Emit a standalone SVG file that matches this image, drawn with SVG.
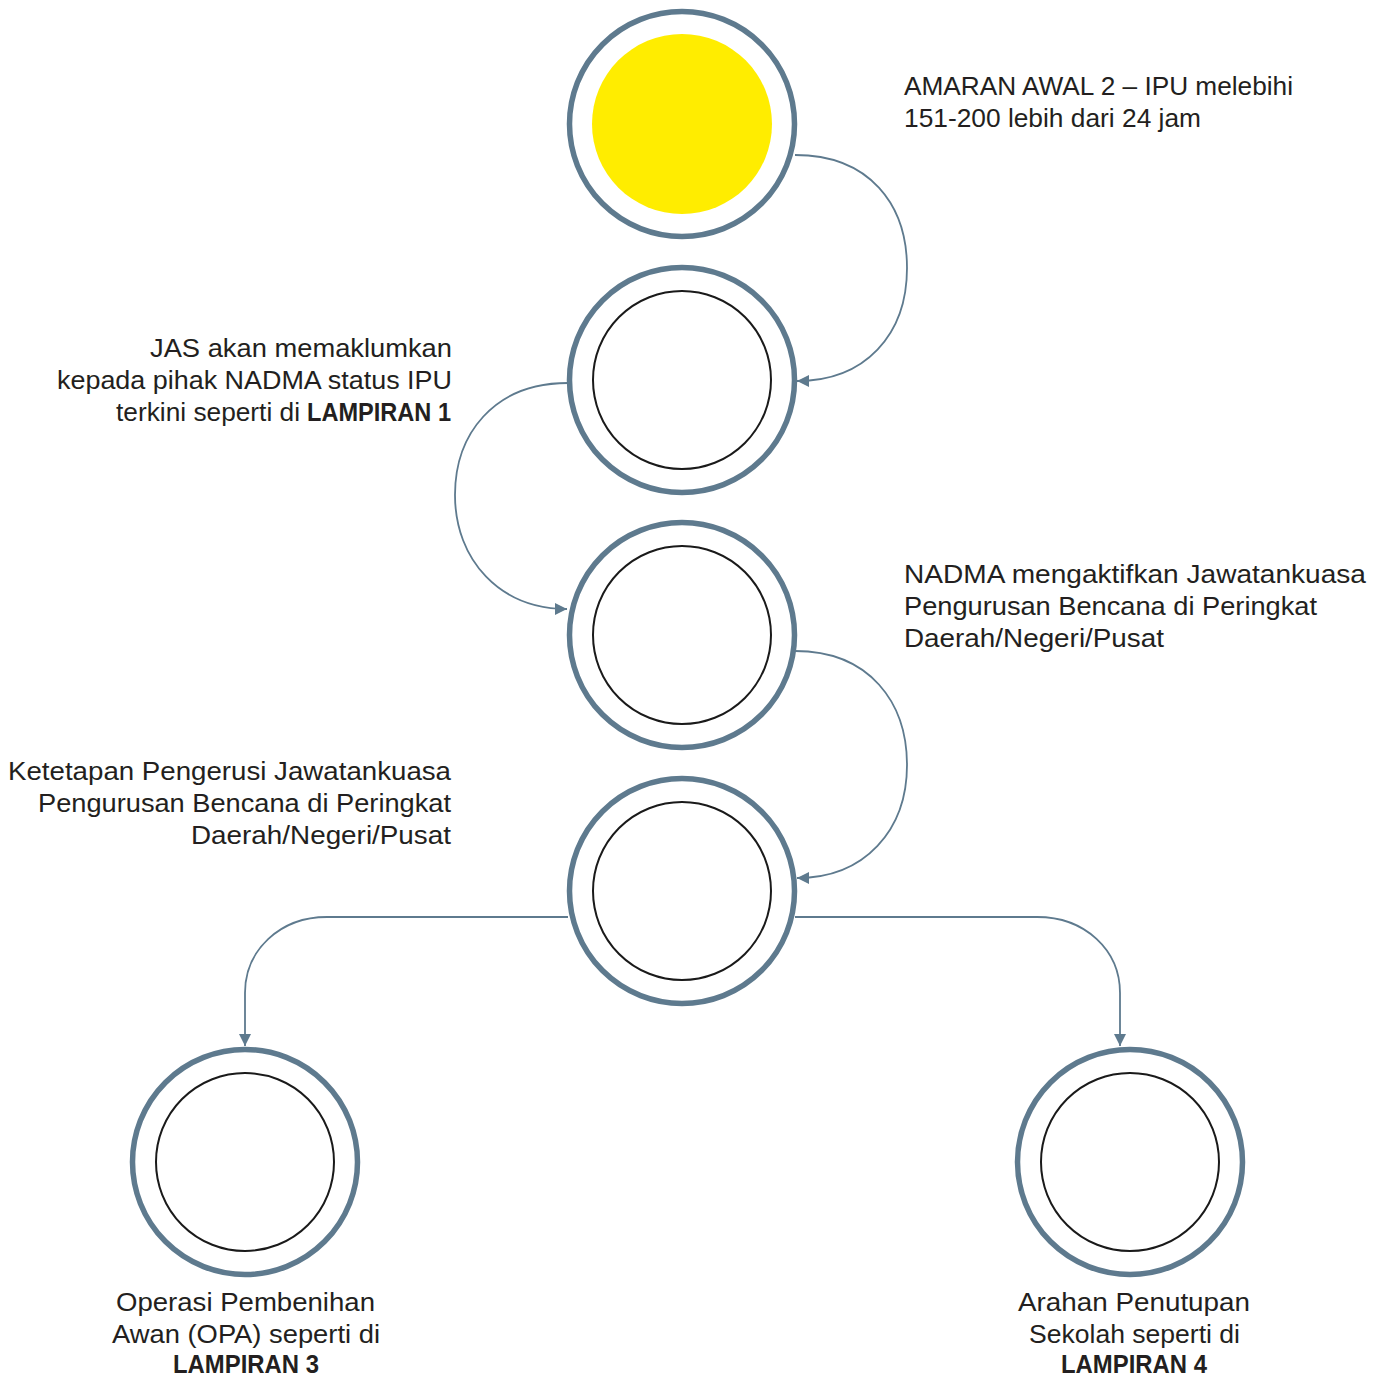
<svg xmlns="http://www.w3.org/2000/svg" width="1386" height="1379" viewBox="0 0 1386 1379">
<defs>
<style>
.ring{fill:#fff;stroke:#5e7a8e;stroke-width:5.5}
.inner{fill:none;stroke:#1a1a1a;stroke-width:2}
.yel{fill:#ffed00;stroke:none}
.con{fill:none;stroke:#5e7a8e;stroke-width:1.8}
text{font-family:"Liberation Sans",Arial,sans-serif;font-size:25px;fill:#231f20}
.b{font-weight:bold}
</style>
<marker id="ah" viewBox="0 0 10 10" refX="10" refY="5" markerWidth="16" markerHeight="12" markerUnits="userSpaceOnUse" orient="auto">
<path d="M0,0 L10,5 L0,10 z" fill="#5e7a8e"/>
</marker>
</defs>
<g id="connectors">
<path class="con" marker-end="url(#ah)" d="M795,155 C870,155 907,205 907,268 C907,335 865,381 797,381"/>
<path class="con" marker-end="url(#ah)" d="M568,383 C493,383 455,435 455,495 C455,560 500,609 567,609"/>
<path class="con" marker-end="url(#ah)" d="M795,651 C870,651 907,703 907,765 C907,830 865,878 797,878"/>
<path class="con" marker-end="url(#ah)" d="M568,917 L327,917 C280,917 245,950 245,993 L245,1046"/>
<path class="con" marker-end="url(#ah)" d="M795,917 L1037,917 C1085,917 1120,950 1120,993 L1120,1046"/>
</g>
<g id="node1">
<circle class="ring" cx="682" cy="124" r="112.5"/>
<circle class="yel" cx="682" cy="124" r="90"/>
</g>
<g id="node2">
<circle class="ring" cx="682" cy="380" r="112.5"/>
<circle class="inner" cx="682" cy="380" r="89"/>
</g>
<g id="node3">
<circle class="ring" cx="682" cy="635" r="112.5"/>
<circle class="inner" cx="682" cy="635" r="89"/>
</g>
<g id="node4">
<circle class="ring" cx="682" cy="891" r="112.5"/>
<circle class="inner" cx="682" cy="891" r="89"/>
</g>
<g id="node5">
<circle class="ring" cx="245" cy="1162" r="112.5"/>
<circle class="inner" cx="245" cy="1162" r="89"/>
</g>
<g id="node6">
<circle class="ring" cx="1130" cy="1162" r="112.5"/>
<circle class="inner" cx="1130" cy="1162" r="89"/>
</g>
<g id="labels">
<text x="904" y="95" textLength="389" lengthAdjust="spacingAndGlyphs">AMARAN AWAL 2 – IPU melebihi</text>
<text x="904" y="127" textLength="297" lengthAdjust="spacingAndGlyphs">151-200 lebih dari 24 jam</text>

<text x="150" y="357" textLength="302" lengthAdjust="spacingAndGlyphs">JAS akan memaklumkan</text>
<text x="57" y="389" textLength="395" lengthAdjust="spacingAndGlyphs">kepada pihak NADMA status IPU</text>
<text x="116" y="421" textLength="184" lengthAdjust="spacingAndGlyphs">terkini seperti di</text>
<text class="b" x="307" y="421" textLength="144" lengthAdjust="spacingAndGlyphs">LAMPIRAN 1</text>

<text x="904" y="583" textLength="462" lengthAdjust="spacingAndGlyphs">NADMA mengaktifkan Jawatankuasa</text>
<text x="904" y="615" textLength="413" lengthAdjust="spacingAndGlyphs">Pengurusan Bencana di Peringkat</text>
<text x="904" y="647" textLength="260" lengthAdjust="spacingAndGlyphs">Daerah/Negeri/Pusat</text>

<text x="8" y="780" textLength="443" lengthAdjust="spacingAndGlyphs">Ketetapan Pengerusi Jawatankuasa</text>
<text x="38" y="812" textLength="413" lengthAdjust="spacingAndGlyphs">Pengurusan Bencana di Peringkat</text>
<text x="191" y="844" textLength="260" lengthAdjust="spacingAndGlyphs">Daerah/Negeri/Pusat</text>

<text x="116" y="1311" textLength="259" lengthAdjust="spacingAndGlyphs">Operasi Pembenihan</text>
<text x="112" y="1343" textLength="268" lengthAdjust="spacingAndGlyphs">Awan (OPA) seperti di</text>
<text class="b" x="173" y="1373" textLength="146" lengthAdjust="spacingAndGlyphs">LAMPIRAN 3</text>

<text x="1018" y="1311" textLength="232" lengthAdjust="spacingAndGlyphs">Arahan Penutupan</text>
<text x="1029" y="1343" textLength="211" lengthAdjust="spacingAndGlyphs">Sekolah seperti di</text>
<text class="b" x="1061" y="1373" textLength="146" lengthAdjust="spacingAndGlyphs">LAMPIRAN 4</text>
</g>
</svg>
